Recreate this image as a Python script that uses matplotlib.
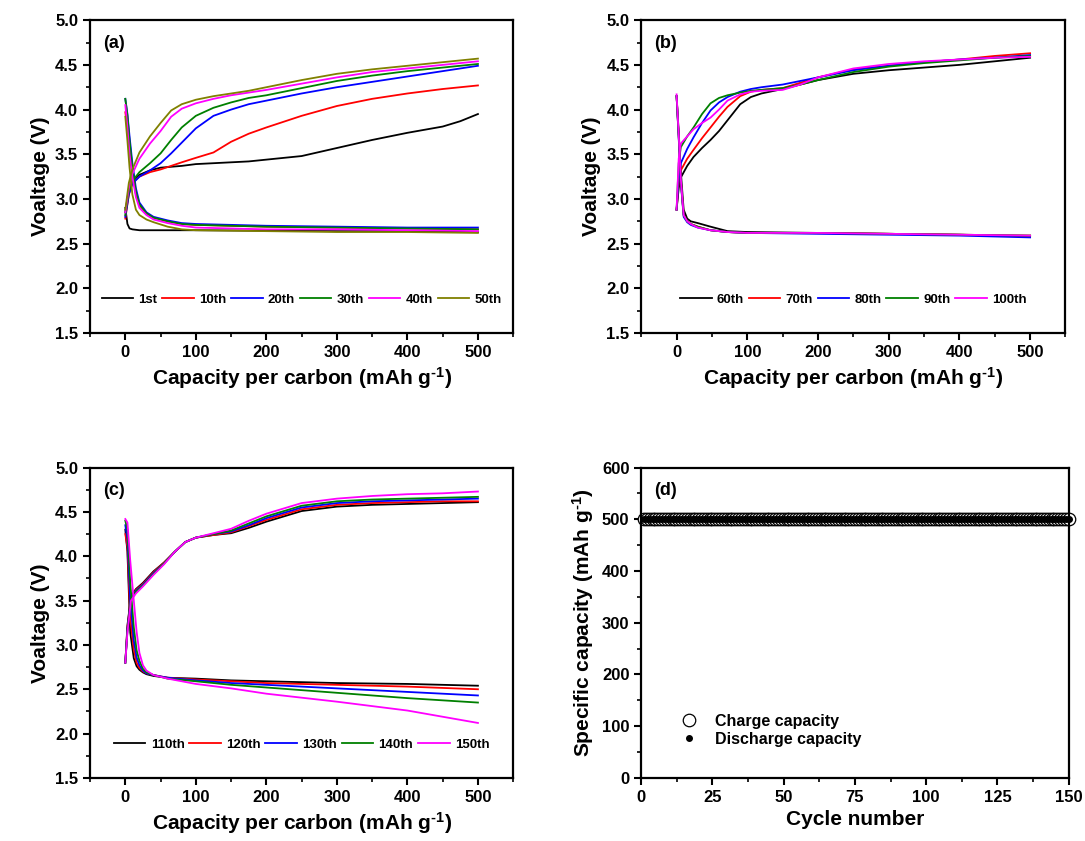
import matplotlib

matplotlib.use("Agg")
import matplotlib.pyplot as plt
from matplotlib.ticker import AutoMinorLocator, MultipleLocator

plt.rcParams.update(
    {
        "font.family": ["Liberation Sans", "DejaVu Sans"],
        "font.weight": "bold",
        "axes.labelweight": "bold",
        "axes.linewidth": 1.6,
        "axes.unicode_minus": False,
        "mathtext.fontset": "custom",
        "mathtext.rm": "Liberation Sans:bold",
        "mathtext.bf": "Liberation Sans:bold",
        "mathtext.it": "Liberation Sans:bold",
        "xtick.major.width": 1.5,
        "ytick.major.width": 1.5,
        "xtick.minor.width": 1.2,
        "ytick.minor.width": 1.2,
        "xtick.major.size": 5,
        "ytick.major.size": 5,
        "xtick.minor.size": 3,
        "ytick.minor.size": 3,
        "xtick.labelsize": 12,
        "ytick.labelsize": 12,
    }
)

# ---------------- panel (a): cycles 1-50 ----------------
a_labels = ["1st", "10th", "20th", "30th", "40th", "50th"]
a_colors = ["black", "red", "blue", "green", "magenta", "olive"]

a_ch_cap = [0, 5, 10, 20, 35, 50, 65, 80, 100, 125, 150, 175, 200, 250, 300, 350, 400, 450, 475, 500]
a_ch_v = [
    [2.85, 3.10, 3.20, 3.27, 3.32, 3.35, 3.36, 3.37, 3.39, 3.40, 3.41, 3.42, 3.44, 3.48, 3.57, 3.66, 3.74, 3.81, 3.87, 3.95],
    [2.78, 3.05, 3.18, 3.25, 3.30, 3.33, 3.37, 3.41, 3.46, 3.52, 3.64, 3.73, 3.80, 3.93, 4.04, 4.12, 4.18, 4.23, 4.25, 4.27],
    [2.80, 3.05, 3.17, 3.25, 3.32, 3.40, 3.51, 3.63, 3.79, 3.93, 4.00, 4.06, 4.10, 4.18, 4.25, 4.31, 4.37, 4.43, 4.46, 4.49],
    [2.82, 3.08, 3.20, 3.30, 3.40, 3.51, 3.66, 3.80, 3.93, 4.02, 4.08, 4.13, 4.16, 4.24, 4.32, 4.38, 4.43, 4.47, 4.49, 4.51],
    [2.85, 3.12, 3.28, 3.45, 3.62, 3.76, 3.92, 4.01, 4.07, 4.12, 4.16, 4.19, 4.22, 4.29, 4.36, 4.42, 4.46, 4.50, 4.52, 4.54],
    [2.88, 3.18, 3.33, 3.52, 3.70, 3.85, 3.99, 4.06, 4.11, 4.15, 4.18, 4.21, 4.25, 4.33, 4.40, 4.45, 4.49, 4.53, 4.55, 4.57],
]
a_dis_cap = [0, 3, 6, 10, 15, 20, 30, 40, 60, 80, 100, 200, 300, 400, 500]
a_dis_v = [
    [2.90, 2.72, 2.67, 2.66, 2.655, 2.65, 2.65, 2.65, 2.65, 2.65, 2.65, 2.645, 2.64, 2.64, 2.63],
    [3.97, 3.80, 3.55, 3.30, 3.05, 2.93, 2.84, 2.79, 2.75, 2.72, 2.71, 2.69, 2.68, 2.67, 2.66],
    [4.12, 3.95, 3.70, 3.40, 3.12, 2.96, 2.85, 2.80, 2.76, 2.73, 2.72, 2.70, 2.69, 2.68, 2.68],
    [4.12, 3.93, 3.65, 3.35, 3.08, 2.94, 2.84, 2.79, 2.75, 2.72, 2.71, 2.69, 2.68, 2.67, 2.66],
    [4.05, 3.80, 3.50, 3.25, 3.02, 2.90, 2.82, 2.77, 2.73, 2.70, 2.68, 2.66, 2.66, 2.65, 2.64],
    [3.92, 3.65, 3.35, 3.05, 2.88, 2.82, 2.77, 2.74, 2.69, 2.66, 2.65, 2.64, 2.63, 2.63, 2.62],
]

# ---------------- panel (b): cycles 60-100 ----------------
b_labels = ["60th", "70th", "80th", "90th", "100th"]
b_colors = ["black", "red", "blue", "green", "magenta"]

b_ch_cap = [0, 3, 6, 15, 24, 36, 48, 60, 72, 90, 105, 120, 150, 175, 200, 250, 300, 350, 400, 450, 500]
b_ch_v = [
    [2.88, 3.12, 3.24, 3.37, 3.47, 3.57, 3.66, 3.76, 3.88, 4.06, 4.14, 4.18, 4.23, 4.28, 4.33, 4.40, 4.44, 4.47, 4.50, 4.54, 4.58],
    [2.88, 3.18, 3.32, 3.45, 3.55, 3.68, 3.80, 3.92, 4.03, 4.15, 4.20, 4.22, 4.24, 4.30, 4.36, 4.45, 4.49, 4.53, 4.56, 4.60, 4.63],
    [2.88, 3.22, 3.40, 3.56, 3.69, 3.85, 3.99, 4.08, 4.14, 4.20, 4.23, 4.25, 4.28, 4.32, 4.36, 4.44, 4.49, 4.53, 4.56, 4.58, 4.61],
    [2.88, 3.40, 3.58, 3.70, 3.80, 3.95, 4.07, 4.13, 4.16, 4.19, 4.21, 4.22, 4.24, 4.28, 4.33, 4.42, 4.48, 4.52, 4.55, 4.58, 4.60],
    [2.88, 3.45, 3.62, 3.70, 3.78, 3.85, 3.91, 4.00, 4.10, 4.17, 4.20, 4.21, 4.22, 4.28, 4.36, 4.46, 4.51, 4.54, 4.56, 4.58, 4.59],
]
b_dis_cap = [0, 3, 6, 10, 15, 20, 30, 48, 72, 100, 200, 300, 400, 500]
b_dis_v = [
    [4.15, 3.75, 3.30, 2.88, 2.78, 2.75, 2.73, 2.69, 2.64, 2.63, 2.62, 2.61, 2.60, 2.58],
    [4.15, 3.70, 3.20, 2.82, 2.75, 2.72, 2.69, 2.65, 2.63, 2.62, 2.62, 2.61, 2.60, 2.59],
    [4.15, 3.68, 3.18, 2.80, 2.74, 2.71, 2.68, 2.65, 2.63, 2.62, 2.61, 2.60, 2.59, 2.57],
    [4.15, 3.70, 3.20, 2.82, 2.75, 2.72, 2.69, 2.65, 2.63, 2.62, 2.62, 2.61, 2.60, 2.59],
    [4.17, 3.72, 3.22, 2.82, 2.75, 2.72, 2.68, 2.65, 2.63, 2.62, 2.62, 2.61, 2.60, 2.59],
]

# ---------------- panel (c): cycles 110-150 ----------------
c_labels = ["110th", "120th", "130th", "140th", "150th"]
c_colors = ["black", "red", "blue", "green", "magenta"]

c_ch_cap = [0, 3, 8, 15, 25, 40, 55, 70, 85, 100, 125, 150, 175, 200, 250, 300, 350, 400, 450, 500]
c_ch_v = [
    [2.80, 3.22, 3.55, 3.63, 3.70, 3.83, 3.93, 4.05, 4.16, 4.21, 4.24, 4.26, 4.32, 4.39, 4.51, 4.56, 4.58, 4.59, 4.60, 4.61],
    [2.80, 3.20, 3.54, 3.62, 3.69, 3.82, 3.93, 4.05, 4.16, 4.21, 4.24, 4.27, 4.34, 4.41, 4.53, 4.58, 4.60, 4.61, 4.62, 4.62],
    [2.80, 3.18, 3.53, 3.61, 3.68, 3.81, 3.92, 4.05, 4.16, 4.21, 4.25, 4.28, 4.35, 4.43, 4.55, 4.60, 4.62, 4.63, 4.64, 4.65],
    [2.80, 3.16, 3.52, 3.60, 3.67, 3.80, 3.92, 4.05, 4.16, 4.21, 4.25, 4.29, 4.37, 4.45, 4.57, 4.62, 4.64, 4.65, 4.66, 4.67],
    [2.80, 3.14, 3.50, 3.58, 3.66, 3.79, 3.91, 4.05, 4.16, 4.21, 4.26, 4.31, 4.40, 4.48, 4.60, 4.65, 4.68, 4.70, 4.71, 4.73],
]
c_dis_cap = [0, 3, 7, 12, 16, 20, 25, 30, 40, 60, 100, 150, 200, 300, 400, 500]
c_dis_v = [
    [4.30, 4.05, 3.14, 2.85, 2.76, 2.72, 2.69, 2.67, 2.65, 2.63, 2.62, 2.60, 2.59, 2.57, 2.56, 2.54],
    [4.25, 4.10, 3.30, 2.95, 2.80, 2.74, 2.70, 2.68, 2.66, 2.63, 2.61, 2.59, 2.57, 2.55, 2.53, 2.50],
    [4.35, 4.20, 3.50, 3.05, 2.86, 2.77, 2.71, 2.68, 2.66, 2.63, 2.60, 2.57, 2.55, 2.51, 2.47, 2.43],
    [4.40, 4.30, 3.70, 3.20, 2.94, 2.82, 2.73, 2.69, 2.66, 2.62, 2.59, 2.55, 2.52, 2.46, 2.40, 2.35],
    [4.42, 4.38, 3.95, 3.50, 3.15, 2.91, 2.77, 2.71, 2.66, 2.62, 2.56, 2.51, 2.45, 2.36, 2.26, 2.12],
]

# ---------------- panel (d): cycling ----------------
cycles = list(range(1, 151))
charge_cap = [500] * 150
discharge_cap = [500] * 150

cap_label = r"Capacity per carbon (mAh g$^{\text{-1}}$)"


def style_voltage_axis(ax):
    ax.set_xlim(-50, 550)
    ax.set_ylim(1.5, 5.0)
    ax.xaxis.set_major_locator(MultipleLocator(100))
    ax.xaxis.set_minor_locator(AutoMinorLocator(2))
    ax.yaxis.set_major_locator(MultipleLocator(0.5))
    ax.yaxis.set_minor_locator(AutoMinorLocator(2))
    ax.yaxis.set_major_formatter("{x:.1f}")
    ax.tick_params(which="both", direction="out", top=False, right=False)
    ax.set_xlabel(cap_label, fontsize=15)
    ax.set_ylabel("Voaltage (V)", fontsize=15)


def plot_cycles(ax, tag, labels, colors, ch_cap, ch_v, dis_cap, dis_v):
    for lab, col, vc, vd in zip(labels, colors, ch_v, dis_v):
        ax.plot(ch_cap, vc, color=col, lw=1.3, label=lab)
        ax.plot(dis_cap, vd, color=col, lw=1.3)
    style_voltage_axis(ax)
    ax.text(0.03, 0.925, tag, transform=ax.transAxes, fontsize=13, fontweight="bold", va="center")
    ax.legend(
        loc="lower center",
        bbox_to_anchor=(0.5, 0.07),
        ncol=len(labels),
        frameon=False,
        fontsize=9.5,
        handlelength=2.4,
        columnspacing=0.35,
        handletextpad=0.4,
        borderaxespad=0,
    )


fig = plt.figure(figsize=(10.85, 8.41), dpi=100)
ax_a = fig.add_axes([0.083, 0.604, 0.390, 0.372])
ax_b = fig.add_axes([0.591, 0.604, 0.391, 0.372])
ax_c = fig.add_axes([0.083, 0.075, 0.390, 0.369])
ax_d = fig.add_axes([0.591, 0.075, 0.394, 0.369])

plot_cycles(ax_a, "(a)", a_labels, a_colors, a_ch_cap, a_ch_v, a_dis_cap, a_dis_v)
plot_cycles(ax_b, "(b)", b_labels, b_colors, b_ch_cap, b_ch_v, b_dis_cap, b_dis_v)
plot_cycles(ax_c, "(c)", c_labels, c_colors, c_ch_cap, c_ch_v, c_dis_cap, c_dis_v)

ax_d.plot(cycles, charge_cap, "o", ms=9, mfc="white", mec="black", mew=0.9,
          label="Charge capacity", clip_on=False)
ax_d.plot(cycles, discharge_cap, "o", ms=4, color="black", label="Discharge capacity", clip_on=False)
ax_d.set_xlim(0, 150)
ax_d.set_ylim(0, 600)
ax_d.xaxis.set_major_locator(MultipleLocator(25))
ax_d.xaxis.set_minor_locator(AutoMinorLocator(2))
ax_d.yaxis.set_major_locator(MultipleLocator(100))
ax_d.yaxis.set_minor_locator(AutoMinorLocator(2))
ax_d.tick_params(which="both", direction="out", top=False, right=False)
ax_d.set_xlabel("Cycle number", fontsize=15)
ax_d.set_ylabel(r"Specific capacity (mAh g$^{\text{-1}}$)", fontsize=15)
ax_d.text(0.03, 0.925, "(d)", transform=ax_d.transAxes, fontsize=13, fontweight="bold", va="center")
ax_d.legend(loc="lower left", bbox_to_anchor=(0.06, 0.08), frameon=False, fontsize=11.5,
            handletextpad=0.6, labelspacing=0.2, borderaxespad=0)

fig.savefig("out.png", dpi=100)
